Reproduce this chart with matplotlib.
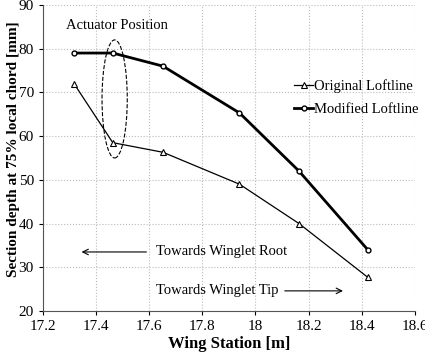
import matplotlib.pyplot as plt
from matplotlib.patches import Ellipse

station = [17.317, 17.463, 17.652, 17.94, 18.164, 18.423]
original = [72.0, 58.5, 56.3, 49.0, 40.0, 27.7]
modified = [79.0, 79.0, 76.0, 65.3, 52.0, 34.0]

plt.rcParams['font.family'] = ['Liberation Serif', 'DejaVu Serif']

fig = plt.figure(figsize=(4.25, 3.53), dpi=100)
ax = fig.add_axes([0.101, 0.119, 0.875, 0.867])

ax.plot(station, original, '-^', color='black', lw=0.9, ms=4.5,
        mfc='white', mec='black', mew=0.8, label='Original Loftline')
ax.plot(station, modified, '-o', color='black', lw=2.0, ms=3.5,
        mfc='white', mec='black', mew=1.0, label='Modified Loftline')

ax.add_patch(Ellipse((17.47, 68.5), 0.095, 27, fill=False, ls='--', lw=0.8, color='black'))
ax.text(17.48, 85.4, 'Actuator Position', ha='center', va='center', fontsize=10.5)

ax.annotate('', xy=(17.335, 33.5), xytext=(17.6, 33.5),
            arrowprops=dict(arrowstyle='->', lw=0.8, color='black'))
ax.text(17.625, 33.5, 'Towards Winglet Root', ha='left', va='center', fontsize=10.5)
ax.annotate('', xy=(18.34, 24.6), xytext=(18.1, 24.6),
            arrowprops=dict(arrowstyle='->', lw=0.8, color='black'))
ax.text(18.085, 24.6, 'Towards Winglet Tip', ha='right', va='center', fontsize=10.5)

ax.set_xlim(17.2, 18.6)
ax.set_ylim(20, 90)
ax.set_xticks([17.2, 17.4, 17.6, 17.8, 18.0, 18.2, 18.4, 18.6])
ax.set_xticklabels(['17.2', '17.4', '17.6', '17.8', '18', '18.2', '18.4', '18.6'])
ax.set_yticks(range(20, 91, 10))
ax.tick_params(labelsize=11, direction='out', length=3)
ax.grid(True, ls=':', color='#bbbbbb', lw=0.8)
ax.spines['top'].set_visible(False)
ax.spines['right'].set_visible(False)
ax.spines['left'].set_color('#555555')
ax.spines['bottom'].set_color('#555555')

ax.set_xlabel('Wing Station [m]', fontsize=12, fontweight='bold', labelpad=2)
ax.set_ylabel('Section depth at 75% local chord [mm]', fontsize=11, fontweight='bold')
ax.yaxis.set_label_coords(-0.062, 0.53)

ax.legend(loc='upper left', bbox_to_anchor=(0.64, 0.80), frameon=False, fontsize=10.5,
          handlelength=1.3, handletextpad=0.1, labelspacing=0.7)

plt.savefig('out.png')
